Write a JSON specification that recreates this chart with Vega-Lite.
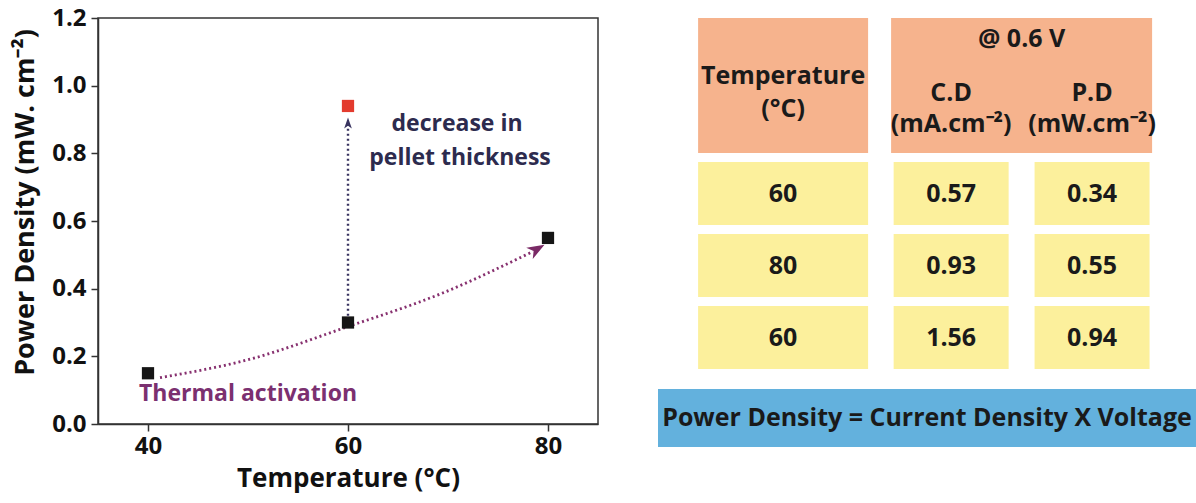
{
  "$schema": "https://vega.github.io/schema/vega-lite/v6.json",
  "padding": {"left": 10, "top": 5, "right": 0, "bottom": 10},
  "background": "white",
  "config": {
    "view": {"stroke": null},
    "font": "Open Sans",
    "text": {"font": "Open Sans", "fontWeight": "bold"}
  },
  "datasets": {
    "points": [
      {"T": 40, "PD": 0.15, "series": "thermal"},
      {"T": 60, "PD": 0.30, "series": "thermal"},
      {"T": 80, "PD": 0.55, "series": "thermal"},
      {"T": 60, "PD": 0.94, "series": "thin pellet"}
    ],
    "curve": [
      {"T": 41.2, "PD": 0.137},
      {"T": 50, "PD": 0.19},
      {"T": 60, "PD": 0.288},
      {"T": 69.2, "PD": 0.384},
      {"T": 78.5, "PD": 0.51}
    ],
    "rise": [
      {"T": 60, "PD": 0.32},
      {"T": 60, "PD": 0.885}
    ],
    "arrowThermal": [{"T": 78.9, "PD": 0.517}],
    "arrowThin": [{"T": 60, "PD": 0.89}],
    "notes": [
      {"T": 70.9, "PD": 0.887, "label": "decrease in", "group": "thickness"},
      {"T": 71.2, "PD": 0.786, "label": "pellet thickness", "group": "thickness"},
      {"T": 50, "PD": 0.089, "label": "Thermal activation", "group": "thermal"}
    ],
    "cells": [
      {"col": "Temperature", "row": "r1", "label": "60"},
      {"col": "C.D", "row": "r1", "label": "0.57"},
      {"col": "P.D", "row": "r1", "label": "0.34"},
      {"col": "Temperature", "row": "r2", "label": "80"},
      {"col": "C.D", "row": "r2", "label": "0.93"},
      {"col": "P.D", "row": "r2", "label": "0.55"},
      {"col": "Temperature", "row": "r3", "label": "60"},
      {"col": "C.D", "row": "r3", "label": "1.56"},
      {"col": "P.D", "row": "r3", "label": "0.94"}
    ],
    "headers": [
      {"col": "Temperature", "top": "h1", "bottom": "h2", "label": "Temperature\n(°C)"},
      {"col": "@ 0.6 V", "top": "h1", "bottom": "h2", "label": "@ 0.6 V"}
    ],
    "subheaders": [
      {"col": "C.D", "label": "C.D\n(mA.cm⁻²)"},
      {"col": "P.D", "label": "P.D\n(mW.cm⁻²)"}
    ],
    "formula": [{"label": "Power Density = Current Density X Voltage"}]
  },
  "spacing": 59,
  "hconcat": [
    {
      "width": 500,
      "height": 406,
      "view": {"stroke": "#333333", "strokeWidth": 1.5},
      "encoding": {
        "x": {
          "field": "T", "type": "quantitative",
          "scale": {"domain": [35, 85], "nice": false, "zero": false},
          "axis": {
            "values": [40, 60, 80], "format": "d", "grid": false,
            "title": "Temperature (°C)", "titleFontSize": 26, "titleFontWeight": "bold", "titleFont": "Open Sans", "titleColor": "#111111", "titlePadding": 7,
            "labelFontSize": 24, "labelFontWeight": "bold", "labelFont": "Open Sans", "labelColor": "#111111", "labelPadding": 3,
            "tickSize": 7, "tickWidth": 1.5, "tickColor": "#333333", "domainColor": "#333333", "domainWidth": 1.5
          }
        },
        "y": {
          "field": "PD", "type": "quantitative",
          "scale": {"domain": [0, 1.2], "nice": false},
          "axis": {
            "values": [0, 0.2, 0.4, 0.6, 0.8, 1.0, 1.2], "format": ".1f", "grid": false,
            "title": "Power Density (mW. cm⁻²)", "titleFontSize": 27, "titleFontWeight": "bold", "titleFont": "Open Sans", "titleColor": "#111111", "titlePadding": 12, "titleY": 184,
            "labelFontSize": 24, "labelFontWeight": "bold", "labelFont": "Open Sans", "labelColor": "#111111", "labelPadding": 5,
            "tickSize": 7, "tickWidth": 1.5, "tickColor": "#333333", "domainColor": "#333333", "domainWidth": 1.5
          }
        }
      },
      "layer": [
        {"data": {"name": "curve"}, "mark": {"type": "line", "interpolate": "monotone", "color": "#87306f", "strokeWidth": 2.8, "strokeDash": [2, 3]}},
        {"data": {"name": "rise"}, "mark": {"type": "line", "color": "#38335f", "strokeWidth": 2.4, "strokeDash": [2, 3]}},
        {"data": {"name": "arrowThermal"}, "mark": {"type": "point", "shape": "M0,-1L0.75,1L0,0.45L-0.75,1Z", "filled": true, "size": 300, "angle": 60, "color": "#7a2a66", "opacity": 1}},
        {"data": {"name": "arrowThin"}, "mark": {"type": "point", "shape": "M0,-1L0.7,1L0,0.5L-0.7,1Z", "filled": true, "size": 121, "color": "#38335f", "opacity": 1}},
        {
          "data": {"name": "points"},
          "mark": {"type": "point", "shape": "square", "filled": true, "size": 150, "opacity": 1},
          "encoding": {"color": {"field": "series", "type": "nominal", "scale": {"domain": ["thermal", "thin pellet"], "range": ["#151515", "#e33b2e"]}, "legend": null}}
        },
        {
          "data": {"name": "notes"},
          "transform": [{"filter": "datum.group === 'thickness'"}],
          "mark": {"type": "text", "fontSize": 23, "fontWeight": "bold", "color": "#2d2b4e", "baseline": "middle", "align": "center"},
          "encoding": {"text": {"field": "label"}}
        },
        {
          "data": {"name": "notes"},
          "transform": [{"filter": "datum.group === 'thermal'"}],
          "mark": {"type": "text", "fontSize": 23, "fontWeight": "bold", "color": "#7b3070", "baseline": "middle", "align": "center"},
          "encoding": {"text": {"field": "label"}}
        }
      ]
    },
    {
      "vconcat": [
        {
          "spacing": 22,
          "hconcat": [
            {
              "width": 170,
              "height": 351,
              "encoding": {
                "y": {"field": "row", "type": "nominal", "scale": {"domain": ["h1", "h2", "r1", "r2", "r3"], "paddingInner": 0.125, "paddingOuter": 0}, "axis": null}
              },
              "layer": [
                {
                  "data": {"name": "headers"},
                  "transform": [{"filter": "datum.col === 'Temperature'"}],
                  "mark": {"type": "rect", "color": "#f6b38d"},
                  "encoding": {
                    "y": {"field": "top", "type": "nominal", "bandPosition": 0, "scale": {"domain": ["h1", "h2", "r1", "r2", "r3"], "paddingInner": 0.125, "paddingOuter": 0}, "axis": null},
                    "y2": {"field": "bottom", "bandPosition": 1}
                  }
                },
                {
                  "data": {"name": "cells"},
                  "transform": [{"filter": "datum.col === 'Temperature'"}],
                  "mark": {"type": "rect", "color": "#fcf09c"}
                },
                {
                  "data": {"name": "cells"},
                  "transform": [{"filter": "datum.col === 'Temperature'"}],
                  "mark": {"type": "text", "fontSize": 25, "fontWeight": "bold", "color": "#1a1a1a", "baseline": "middle"},
                  "encoding": {"text": {"field": "label"}}
                },
                {
                  "data": {"name": "headers"},
                  "transform": [{"filter": "datum.col === 'Temperature'"}],
                  "mark": {"type": "text", "fontSize": 25, "fontWeight": "bold", "color": "#1a1a1a", "baseline": "middle", "lineBreak": "\n", "lineHeight": 33},
                  "encoding": {
                    "y": {"field": "top", "type": "nominal", "bandPosition": 0.92, "scale": {"domain": ["h1", "h2", "r1", "r2", "r3"], "paddingInner": 0.125, "paddingOuter": 0}, "axis": null},
                    "text": {"field": "label"}
                  }
                }
              ]
            },
            {
              "width": 261,
              "height": 351,
              "encoding": {
                "y": {"field": "row", "type": "nominal", "scale": {"domain": ["h1", "h2", "r1", "r2", "r3"], "paddingInner": 0.125, "paddingOuter": 0}, "axis": null},
                "x": {"field": "col", "type": "nominal", "scale": {"domain": ["C.D", "P.D"], "paddingInner": 0.184, "paddingOuter": 0.018}, "axis": null}
              },
              "layer": [
                {
                  "data": {"name": "headers"},
                  "transform": [{"filter": "datum.col === '@ 0.6 V'"}],
                  "mark": {"type": "rect", "color": "#f6b38d"},
                  "encoding": {
                    "x": null,
                    "y": {"field": "top", "type": "nominal", "bandPosition": 0, "scale": {"domain": ["h1", "h2", "r1", "r2", "r3"], "paddingInner": 0.125, "paddingOuter": 0}, "axis": null},
                    "y2": {"field": "bottom", "bandPosition": 1}
                  }
                },
                {
                  "data": {"name": "cells"},
                  "transform": [{"filter": "datum.col !== 'Temperature'"}],
                  "mark": {"type": "rect", "color": "#fcf09c"}
                },
                {
                  "data": {"name": "cells"},
                  "transform": [{"filter": "datum.col !== 'Temperature'"}],
                  "mark": {"type": "text", "fontSize": 25, "fontWeight": "bold", "color": "#1a1a1a", "baseline": "middle"},
                  "encoding": {"text": {"field": "label"}}
                },
                {
                  "data": {"name": "headers"},
                  "transform": [{"filter": "datum.col === '@ 0.6 V'"}],
                  "mark": {"type": "text", "fontSize": 25, "fontWeight": "bold", "color": "#1a1a1a", "baseline": "middle"},
                  "encoding": {
                    "x": null,
                    "y": {"field": "top", "type": "nominal", "bandPosition": 0.33, "scale": {"domain": ["h1", "h2", "r1", "r2", "r3"], "paddingInner": 0.125, "paddingOuter": 0}, "axis": null},
                    "text": {"field": "label"}
                  }
                },
                {
                  "data": {"name": "subheaders"},
                  "mark": {"type": "text", "fontSize": 25, "fontWeight": "bold", "color": "#1a1a1a", "baseline": "middle", "lineBreak": "\n", "lineHeight": 31},
                  "encoding": {
                    "y": {"datum": "h2", "type": "nominal", "bandPosition": 0.05, "scale": {"domain": ["h1", "h2", "r1", "r2", "r3"], "paddingInner": 0.125, "paddingOuter": 0}, "axis": null},
                    "text": {"field": "label"}
                  }
                }
              ]
            }
          ]
        },
        {
          "width": 538,
          "height": 58,
          "data": {"name": "formula"},
          "layer": [
            {"mark": {"type": "rect", "color": "#63b1dd"}},
            {"mark": {"type": "text", "fontSize": 25, "fontWeight": "bold", "color": "#1a1a1a", "baseline": "middle"}, "encoding": {"text": {"field": "label"}}}
          ]
        }
      ],
      "spacing": 20,
      "center": true
    }
  ]
}
